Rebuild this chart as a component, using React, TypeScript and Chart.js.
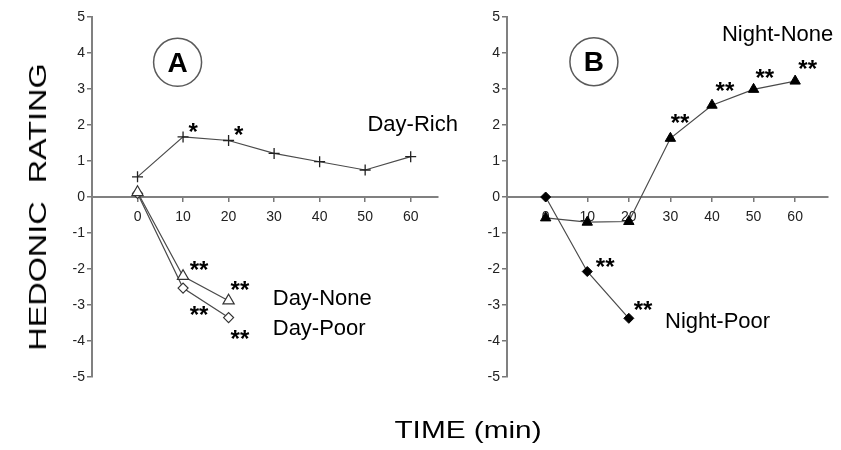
import React, { useEffect, useRef } from 'react';
import { Chart, registerables } from 'chart.js';

Chart.register(...registerables);

const FONT = '"Liberation Sans", Arial, Helvetica, sans-serif';

// ---- data ----
const timesLong = [0, 10, 20, 30, 40, 50, 60];
const timesShort = [0, 10, 20];
const dayRich = [0.56, 1.67, 1.57, 1.21, 0.98, 0.75, 1.12];
const dayNone = [0.13, -2.2, -2.88];
const dayPoor = [0.1, -2.53, -3.35];
const nightNone = [-0.58, -0.7, -0.68, 1.63, 2.55, 2.99, 3.22];
const nightPoor = [0, -2.07, -3.37];
const xTickValues = [0, 10, 20, 30, 40, 50, 60];

// ---- annotations (data coordinates) ----
const starsA = [
  { text: '*', x: 12.2, y: 1.94 },
  { text: '*', x: 22.2, y: 1.86 },
  { text: '**', x: 13.5, y: -1.89 },
  { text: '**', x: 22.5, y: -2.47 },
  { text: '**', x: 13.5, y: -3.14 },
  { text: '**', x: 22.5, y: -3.83 },
];
const labelsA = [
  { text: 'Day-Rich', x: 50.5, y: 2.06 },
  { text: 'Day-None', x: 29.7, y: -2.78 },
  { text: 'Day-Poor', x: 29.7, y: -3.61 },
];
const starsB = [
  { text: '**', x: 32.3, y: 2.19 },
  { text: '**', x: 43.1, y: 3.06 },
  { text: '**', x: 52.7, y: 3.44 },
  { text: '**', x: 63.0, y: 3.67 },
  { text: '**', x: 14.3, y: -1.83 },
  { text: '**', x: 23.4, y: -3.0 },
];
const labelsB = [
  { text: 'Night-None', x: 42.4, y: 4.56 },
  { text: 'Night-Poor', x: 28.7, y: -3.42 },
];
const panelA = { text: 'A', x: 8.8, y: 3.74 };
const panelB = { text: 'B', x: 11.6, y: 3.76 };

function toXY(xs: number[], ys: number[]) {
  return xs.map((x, i) => ({ x, y: ys[i] }));
}

function annoPlugin(id: string, stars: any[], labels: any[], panel: any) {
  return {
    id,
    afterDraw(chart: any) {
      const { ctx } = chart;
      const xs = chart.scales.x;
      const ys = chart.scales.y;
      ctx.save();
      ctx.fillStyle = '#000';
      // panel circle
      const cx = xs.getPixelForValue(panel.x);
      const cy = ys.getPixelForValue(panel.y);
      ctx.beginPath();
      ctx.arc(cx, cy, 24, 0, Math.PI * 2);
      ctx.strokeStyle = '#5a5a5a';
      ctx.lineWidth = 1.5;
      ctx.stroke();
      ctx.font = `bold 28px ${FONT}`;
      ctx.textAlign = 'center';
      ctx.textBaseline = 'alphabetic';
      let m = ctx.measureText(panel.text);
      ctx.fillText(panel.text, cx, cy + (m.actualBoundingBoxAscent - m.actualBoundingBoxDescent) / 2);
      // stars
      ctx.font = `bold 24px ${FONT}`;
      for (const s of stars) {
        const px = xs.getPixelForValue(s.x);
        const py = ys.getPixelForValue(s.y);
        m = ctx.measureText(s.text);
        ctx.fillText(s.text, px, py + (m.actualBoundingBoxAscent - m.actualBoundingBoxDescent) / 2);
      }
      // labels
      ctx.font = `22px ${FONT}`;
      ctx.textAlign = 'left';
      for (const l of labels) {
        const px = xs.getPixelForValue(l.x);
        const py = ys.getPixelForValue(l.y);
        ctx.fillText(l.text, px, py + 0.358 * 22);
      }
      ctx.restore();
    },
  };
}

function makeConfig(datasets: any[], xmin: number, xmax: number, padding: any, yWidth: number, plugin: any) {
  return {
    type: 'scatter',
    data: { datasets },
    options: {
      animation: false,
      responsive: false,
      maintainAspectRatio: false,
      events: [],
      layout: { padding },
      plugins: { legend: { display: false }, tooltip: { enabled: false } },
      scales: {
        x: {
          type: 'linear',
          min: xmin,
          max: xmax,
          position: { y: 0 },
          afterBuildTicks: (s: any) => {
            s.ticks = xTickValues.map((v) => ({ value: v }));
          },
          ticks: {
            font: { family: FONT, size: 14 },
            color: '#222',
            padding: 8,
            autoSkip: false,
            maxRotation: 0,
            callback: (v: any) => String(v),
          },
          grid: { drawOnChartArea: false, tickLength: 4, color: '#777', lineWidth: 1.5 },
          border: { color: '#808080', width: 2 },
        },
        y: {
          type: 'linear',
          min: -5,
          max: 5,
          position: 'left',
          afterFit: (s: any) => {
            s.width = yWidth;
          },
          ticks: { stepSize: 1, font: { family: FONT, size: 14 }, color: '#222', padding: 2 },
          grid: { drawOnChartArea: false, tickLength: 5, color: '#777', lineWidth: 1.5 },
          border: { color: '#808080', width: 2 },
        },
      },
    },
    plugins: [plugin],
  };
}

export default function App() {
  const refA = useRef<HTMLCanvasElement>(null);
  const refB = useRef<HTMLCanvasElement>(null);

  useEffect(() => {
    const lineCol = '#4a4a4a';
    const dsA = [
      {
        data: toXY(timesShort, dayNone),
        showLine: true,
        borderColor: lineCol,
        borderWidth: 1.2,
        pointStyle: 'triangle',
        pointRadius: 6.5,
        pointBackgroundColor: '#fff',
        pointBorderColor: '#333',
        pointBorderWidth: 1.2,
        order: 0,
      },
      {
        data: toXY(timesShort, dayPoor),
        showLine: true,
        borderColor: lineCol,
        borderWidth: 1.2,
        pointStyle: 'rectRot',
        pointRadius: 5,
        pointBackgroundColor: '#fff',
        pointBorderColor: '#333',
        pointBorderWidth: 1.2,
        order: 1,
      },
      {
        data: toXY(timesLong, dayRich),
        showLine: true,
        borderColor: lineCol,
        borderWidth: 1.2,
        pointStyle: 'cross',
        pointRadius: 5.5,
        pointBorderColor: '#222',
        pointBorderWidth: 1.3,
        order: 2,
      },
    ];
    const dsB = [
      {
        data: toXY(timesLong, nightNone),
        showLine: true,
        borderColor: lineCol,
        borderWidth: 1.2,
        pointStyle: 'triangle',
        pointRadius: 6,
        pointBackgroundColor: '#000',
        pointBorderColor: '#000',
        pointBorderWidth: 1,
        order: 1,
      },
      {
        data: toXY(timesShort, nightPoor),
        showLine: true,
        borderColor: lineCol,
        borderWidth: 1.2,
        pointStyle: 'rectRot',
        pointRadius: 5,
        pointBackgroundColor: '#000',
        pointBorderColor: '#000',
        pointBorderWidth: 1,
        order: 0,
      },
    ];
    const chartA = new Chart(
      refA.current as HTMLCanvasElement,
      makeConfig(dsA, -10, 66, { left: 0, top: 17, right: 841 - 438, bottom: 450 - 377 }, 92, annoPlugin('annoA', starsA, labelsA, panelA)) as any
    );
    const chartB = new Chart(
      refB.current as HTMLCanvasElement,
      makeConfig(dsB, -9.3, 67.9, { left: 447, top: 17, right: 841 - 828, bottom: 450 - 377 }, 60, annoPlugin('annoB', starsB, labelsB, panelB)) as any
    );
    return () => {
      chartA.destroy();
      chartB.destroy();
    };
  }, []);

  return (
    <div style={{ position: 'absolute', left: 0, top: 0, width: 841, height: 450, background: '#fff', overflow: 'hidden' }}>
      <canvas ref={refA} width={841} height={450} style={{ position: 'absolute', left: 0, top: 0 }} />
      <canvas ref={refB} width={841} height={450} style={{ position: 'absolute', left: 0, top: 0 }} />
      <div
        style={{
          position: 'absolute',
          left: 38,
          top: 207,
          transform: 'translate(-50%, -50%) rotate(-90deg) scaleX(1.35)',
          font: `24px ${FONT}`,
          lineHeight: '24px',
          whiteSpace: 'pre',
          color: '#000',
        }}
      >
        HEDONIC  RATING
      </div>
      <div
        style={{
          position: 'absolute',
          left: 468,
          top: 418,
          transform: 'translateX(-50%) scaleX(1.24)',
          font: `24px ${FONT}`,
          lineHeight: '24px',
          whiteSpace: 'pre',
          color: '#000',
        }}
      >
        TIME (min)
      </div>
    </div>
  );
}
